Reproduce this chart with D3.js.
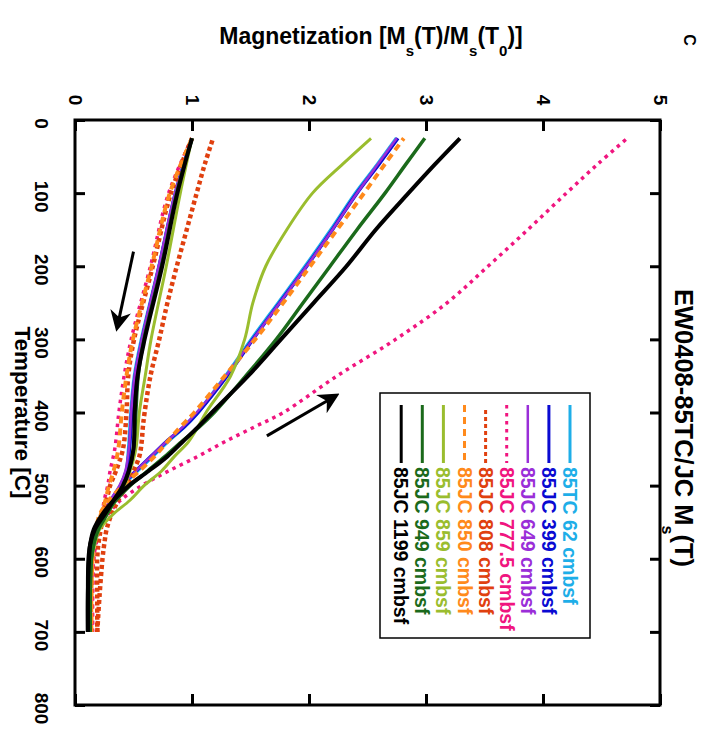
<!DOCTYPE html>
<html>
<head>
<meta charset="utf-8">
<script src="https://cdn.jsdelivr.net/npm/d3@7"></script>
<style>
  body { margin: 0; background: #fff; }
  text { font-family: "Liberation Sans", Arial, Helvetica, sans-serif; font-weight: bold; }
</style>
</head>
<body>
<div id="chart"></div>
<script>
// temperature grids (C) for the heating (up) and cooling (down) runs
const heatT = [25, 100, 200, 300, 350, 400, 450, 480, 500, 520, 540, 560, 580, 600, 650, 700];
const coolT = [700, 650, 600, 580, 560, 540, 520, 500, 480, 460, 440, 420, 400, 350, 300, 250, 200, 150, 100, 60, 25];

// Ms(T)/Ms(T0)
const tc62Heat   = [1.0, 0.86, 0.72, 0.57, 0.51, 0.48, 0.46, 0.44, 0.39, 0.31, 0.24, 0.18, 0.15, 0.13, 0.12, 0.12];
const tc62Cool   = [0.12, 0.12, 0.13, 0.15, 0.18, 0.24, 0.32, 0.41, 0.53, 0.66, 0.79, 0.93, 1.05, 1.29, 1.51, 1.74, 1.97, 2.19, 2.40, 2.59, 2.75];
const jc399Heat  = [1.0, 0.86, 0.72, 0.575, 0.515, 0.485, 0.465, 0.44, 0.39, 0.31, 0.24, 0.18, 0.15, 0.13, 0.12, 0.12];
const jc399Cool  = [0.12, 0.12, 0.13, 0.15, 0.18, 0.24, 0.31, 0.40, 0.52, 0.65, 0.78, 0.93, 1.05, 1.30, 1.52, 1.75, 1.98, 2.20, 2.41, 2.60, 2.76];
const jc649Heat  = [1.0, 0.855, 0.715, 0.57, 0.51, 0.48, 0.46, 0.43, 0.38, 0.30, 0.23, 0.18, 0.15, 0.13, 0.12, 0.12];
const jc649Cool  = [0.12, 0.12, 0.13, 0.15, 0.18, 0.24, 0.31, 0.40, 0.52, 0.65, 0.78, 0.92, 1.04, 1.29, 1.52, 1.75, 1.98, 2.20, 2.41, 2.59, 2.75];
const jc7775Heat = [1.0, 0.80, 0.645, 0.48, 0.42, 0.375, 0.34, 0.30, 0.28, 0.25, 0.23, 0.20, 0.17, 0.16, 0.15, 0.15];
const jc7775Cool = [0.15, 0.15, 0.16, 0.18, 0.21, 0.28, 0.39, 0.57, 0.80, 1.05, 1.28, 1.53, 1.78, 2.24, 2.74, 3.18, 3.53, 3.87, 4.20, 4.47, 4.72];
const jc808Heat  = [1.0, 0.82, 0.665, 0.505, 0.455, 0.44, 0.41, 0.35, 0.30, 0.27, 0.24, 0.22, 0.20, 0.19, 0.19, 0.19];
const jc808Cool  = [0.19, 0.21, 0.235, 0.25, 0.27, 0.31, 0.37, 0.44, 0.50, 0.55, 0.57, 0.58, 0.595, 0.645, 0.72, 0.79, 0.87, 0.955, 1.04, 1.11, 1.18];
const jc850Heat  = [1.0, 0.81, 0.655, 0.495, 0.44, 0.40, 0.37, 0.33, 0.29, 0.26, 0.22, 0.19, 0.16, 0.15, 0.14, 0.14];
const jc850Cool  = [0.14, 0.14, 0.15, 0.16, 0.18, 0.21, 0.29, 0.41, 0.55, 0.68, 0.79, 0.90, 1.02, 1.28, 1.54, 1.78, 2.01, 2.24, 2.47, 2.65, 2.81];
const jc859Heat  = [1.0, 0.90, 0.78, 0.65, 0.60, 0.55, 0.52, 0.47, 0.42, 0.35, 0.27, 0.19, 0.15, 0.13, 0.12, 0.12];
const jc859Cool  = [0.12, 0.12, 0.14, 0.17, 0.21, 0.32, 0.47, 0.59, 0.74, 0.85, 0.97, 1.05, 1.12, 1.33, 1.45, 1.52, 1.63, 1.81, 2.03, 2.29, 2.53];
const jc949Heat  = [1.0, 0.87, 0.74, 0.59, 0.54, 0.52, 0.50, 0.46, 0.41, 0.34, 0.27, 0.20, 0.16, 0.14, 0.13, 0.13];
const jc949Cool  = [0.13, 0.13, 0.14, 0.16, 0.19, 0.25, 0.35, 0.47, 0.62, 0.77, 0.91, 1.06, 1.19, 1.46, 1.72, 1.95, 2.18, 2.41, 2.65, 2.83, 2.99];
const jc1199Heat = [1.0, 0.875, 0.745, 0.595, 0.535, 0.51, 0.50, 0.46, 0.41, 0.33, 0.25, 0.17, 0.13, 0.115, 0.11, 0.11];
const jc1199Cool = [0.11, 0.11, 0.12, 0.13, 0.16, 0.23, 0.33, 0.46, 0.63, 0.79, 0.92, 1.05, 1.17, 1.48, 1.76, 2.04, 2.32, 2.57, 2.85, 3.08, 3.29];

const sampleNames = ['85TC 62 cmbsf', '85JC 399 cmbsf', '85JC 649 cmbsf', '85JC 777.5 cmbsf', '85JC 808 cmbsf',
                     '85JC 850 cmbsf', '85JC 859 cmbsf', '85JC 949 cmbsf', '85JC 1199 cmbsf'];
const heatRuns = [tc62Heat, jc399Heat, jc649Heat, jc7775Heat, jc808Heat, jc850Heat, jc859Heat, jc949Heat, jc1199Heat];
const coolRuns = [tc62Cool, jc399Cool, jc649Cool, jc7775Cool, jc808Cool, jc850Cool, jc859Cool, jc949Cool, jc1199Cool];

const tempTicks = [0, 100, 200, 300, 400, 500, 600, 700, 800];
const magTicks = [0, 1, 2, 3, 4, 5];

// line styles
const colors = ['#1eaee8', '#0a0ad2', '#9a2ed8', '#f0157f', '#e0400f', '#ff8a1c', '#9abd2e', '#1b6a1b', '#000000'];
const widths = [4, 3.5, 2.5, 3.5, 4.5, 4, 3, 3.5, 4];
const dashes = [null, null, null, '3.5,4.5', '4,3', '7,5', null, null, null];

const width = 710, height = 729;
const svg = d3.select('#chart').append('svg')
  .attr('width', width)
  .attr('height', height);

// the plot is turned a quarter turn clockwise: temperature runs down, magnetization runs right
const xM = d3.scaleLinear().domain([0, 5]).range([75, 660]);
const yT = d3.scaleLinear().domain([0, 800]).range([120, 705]);

// axes (ticks point inward)
svg.append('g')
  .attr('transform', `translate(0,${yT(0)})`)
  .call(d3.axisTop(xM).tickValues(magTicks).tickFormat(d3.format('d')).tickSizeInner(-11).tickSizeOuter(0))
  .call(g => {
    g.select('.domain').remove();
    g.selectAll('line').attr('stroke', '#000').attr('stroke-width', 3);
    g.selectAll('text')
      .attr('x', 0).attr('y', 0).attr('dy', null)
      .attr('transform', 'translate(0,-20) rotate(90)')
      .attr('text-anchor', 'middle')
      .attr('dominant-baseline', 'central')
      .attr('font-size', 19)
      .attr('fill', '#000');
  });

svg.append('g')
  .attr('transform', `translate(0,${yT(800)})`)
  .call(d3.axisBottom(xM).tickValues(magTicks).tickFormat('').tickSizeInner(-11).tickSizeOuter(0))
  .call(g => {
    g.select('.domain').remove();
    g.selectAll('line').attr('stroke', '#000').attr('stroke-width', 3);
  });

svg.append('g')
  .attr('transform', `translate(${xM(0)},0)`)
  .call(d3.axisLeft(yT).tickValues(tempTicks).tickFormat(d3.format('d')).tickSizeInner(-10).tickSizeOuter(0))
  .call(g => {
    g.select('.domain').remove();
    g.selectAll('line').attr('stroke', '#000').attr('stroke-width', 3);
    g.selectAll('text')
      .attr('x', 0).attr('y', 0).attr('dy', null)
      .attr('transform', 'translate(-34,3) rotate(90)')
      .attr('text-anchor', 'middle')
      .attr('dominant-baseline', 'central')
      .attr('font-size', 19)
      .attr('fill', '#000');
  });

svg.append('g')
  .attr('transform', `translate(${xM(5)},0)`)
  .call(d3.axisRight(yT).tickValues(tempTicks).tickFormat('').tickSizeInner(-10).tickSizeOuter(0))
  .call(g => {
    g.select('.domain').remove();
    g.selectAll('line').attr('stroke', '#000').attr('stroke-width', 3);
  });

// frame
svg.append('rect')
  .attr('x', xM(0)).attr('y', yT(0))
  .attr('width', xM(5) - xM(0)).attr('height', yT(800) - yT(0))
  .attr('fill', 'none').attr('stroke', '#000').attr('stroke-width', 3);

// curves
const line = d3.line()
  .x(d => xM(d[1]))
  .y(d => yT(d[0]))
  .curve(d3.curveCatmullRom.alpha(0.5));

const curves = svg.append('g').attr('fill', 'none');
sampleNames.forEach((name, i) => {
  const runs = [heatT.map((t, j) => [t, heatRuns[i][j]]), coolT.map((t, j) => [t, coolRuns[i][j]])];
  runs.forEach(run => {
    curves.append('path')
      .datum(run)
      .attr('d', line)
      .attr('stroke', colors[i])
      .attr('stroke-width', widths[i])
      .attr('stroke-dasharray', dashes[i])
      .attr('stroke-linejoin', 'round');
  });
});

// arrows showing run direction
const defs = svg.append('defs');
defs.append('marker')
  .attr('id', 'head')
  .attr('viewBox', '0 0 10 10')
  .attr('refX', 8).attr('refY', 5)
  .attr('markerWidth', 7).attr('markerHeight', 7)
  .attr('orient', 'auto')
  .append('path')
  .attr('d', 'M0,0 L10,5 L0,10 L3,5 Z')
  .attr('fill', '#000');

const arrows = [
  [[180, 0.5], [284, 0.36]],
  [[432, 1.64], [377, 2.23]]
];
arrows.forEach(a => {
  svg.append('line')
    .attr('x1', xM(a[0][1])).attr('y1', yT(a[0][0]))
    .attr('x2', xM(a[1][1])).attr('y2', yT(a[1][0]))
    .attr('stroke', '#000').attr('stroke-width', 3)
    .attr('marker-end', 'url(#head)');
});

// legend
const legend = svg.append('g');
legend.append('rect')
  .attr('x', 380).attr('y', 393)
  .attr('width', 210).attr('height', 245)
  .attr('fill', '#fff').attr('stroke', '#000').attr('stroke-width', 1.5);

sampleNames.forEach((name, i) => {
  const lx = 570 - i * 21.1;
  legend.append('line')
    .attr('x1', lx).attr('x2', lx)
    .attr('y1', i === 4 ? 410 : 405).attr('y2', 463)
    .attr('stroke', colors[i])
    .attr('stroke-width', Math.min(widths[i], 3))
    .attr('stroke-dasharray', dashes[i]);
  legend.append('text')
    .attr('transform', `translate(${lx},467) rotate(90)`)
    .attr('dominant-baseline', 'central')
    .attr('font-size', 19.5)
    .attr('fill', colors[i])
    .text(name);
});

// axis titles
const magTitle = svg.append('text')
  .attr('x', 371).attr('y', 44)
  .attr('text-anchor', 'middle')
  .attr('font-size', 23)
  .attr('fill', '#000');
magTitle.append('tspan').text('Magnetization [M');
magTitle.append('tspan').attr('dy', 12).attr('font-size', 15).text('s');
magTitle.append('tspan').attr('dy', -12).text('(T)/M');
magTitle.append('tspan').attr('dy', 12).attr('font-size', 15).text('s');
magTitle.append('tspan').attr('dy', -12).text('(T');
magTitle.append('tspan').attr('dy', 12).attr('font-size', 15).text('0');
magTitle.append('tspan').attr('dy', -12).text(')]');

svg.append('text')
  .attr('transform', `translate(22,${(yT(0) + yT(800)) / 2}) rotate(90)`)
  .attr('text-anchor', 'middle')
  .attr('dominant-baseline', 'central')
  .attr('font-size', 22.5)
  .attr('fill', '#000')
  .text('Temperature [C]');

const title = svg.append('text')
  .attr('transform', `translate(675,428) rotate(90)`)
  .attr('text-anchor', 'middle')
  .attr('font-size', 25.5)
  .attr('fill', '#000');
title.append('tspan').text('EW0408-85TC/JC M');
title.append('tspan').attr('dy', 13).attr('font-size', 16).text('s');
title.append('tspan').attr('dy', -13).text('(T)');

svg.append('text')
  .attr('transform', 'translate(684,40) rotate(90)')
  .attr('text-anchor', 'middle')
  .attr('font-size', 16)
  .attr('fill', '#000')
  .text('C');
</script>
</body>
</html>
